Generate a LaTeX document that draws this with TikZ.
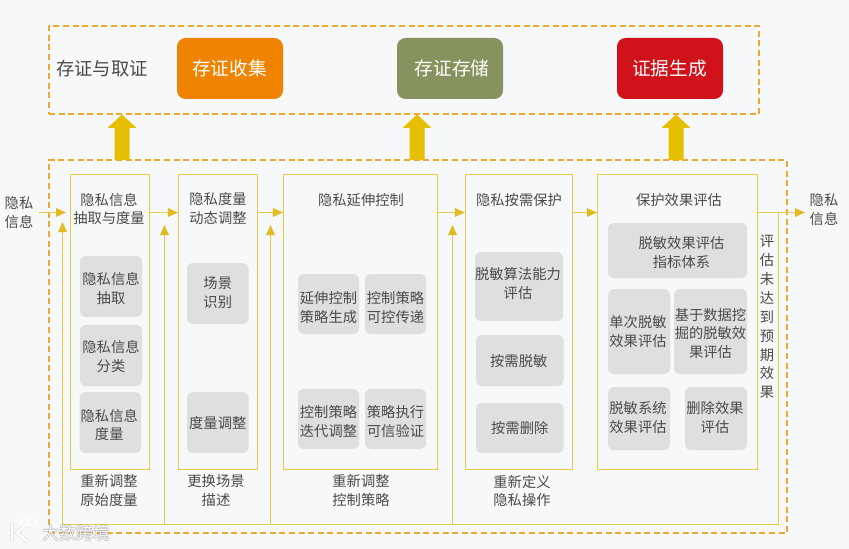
\documentclass[tikz,border=0pt]{standalone}
\usepackage{fontspec}
\setmainfont{Noto Sans CJK SC}
\usetikzlibrary{arrows.meta}
\definecolor{bgc}{HTML}{F7F8FA}
\definecolor{dashc}{HTML}{EEA92F}
\definecolor{linec}{HTML}{E9CB4B}
\definecolor{tipc}{HTML}{E1BB22}
\definecolor{blockc}{HTML}{E6BF00}
\definecolor{greyc}{HTML}{DEDFDF}
\definecolor{txtc}{HTML}{4A4A4A}
\definecolor{orangec}{HTML}{F08300}
\definecolor{greenc}{HTML}{87935F}
\definecolor{redc}{HTML}{D0121B}
\newcommand{\bx}[7]{\node[#6,minimum width={(#4-#2)*0.75pt},minimum height={(#5-#3)*0.75pt}] (#1) at ({(#2+#4)/2},{(#3+#5)/2}) {#7};}
% grey box with its label offset from the centre by (dx,dy)
\newcommand{\gb}[8]{\node[grey,minimum width={(#4-#2)*0.75pt},minimum height={(#5-#3)*0.75pt}] (#1) at ({(#2+#4)/2},{(#3+#5)/2}) {};
  \node[lbl] (#1t) at ({(#2+#4)/2+#6},{(#3+#5)/2+#7}) {#8};}
\tikzset{
  lbl/.style={text=txtc,font=\fontsize{10.7}{14.2}\selectfont,align=center,inner sep=0pt},
  bigl/.style={text=txtc,font=\fontsize{13.7}{16}\selectfont,align=center,inner sep=0pt},
  dashbox/.style={draw=dashc,line width=1.3pt,dash pattern=on 4.5pt off 2.7pt,inner sep=0pt},
  panel/.style={draw=linec,line width=0.9pt,inner sep=0pt},
  grey/.style={fill=greyc,rounded corners=4pt,inner sep=0pt},
  head/.style={rounded corners=6.5pt,text=white,font=\fontsize{14}{16}\selectfont,inner sep=0pt},
  flow/.style={draw=linec,line width=0.9pt},
  arr/.style={flow,-{Triangle[length=7.5pt,width=6.5pt,fill=tipc,color=tipc]}},
}
\begin{document}
\begin{tikzpicture}[x=0.75pt,y=-0.75pt]
\useasboundingbox (0,0) rectangle (849,549);
\fill[bgc] (0,0) rectangle (849,549);
% dashed frames
\bx{top}{49}{26}{759}{114}{dashbox}{}
\bx{bot}{49}{160}{787}{533}{dashbox}{}
% head boxes
\node[bigl] (title) at (102,69) {存证与取证};
\bx{h1}{177}{38}{283}{99}{head,fill=orangec}{\hspace{-1pt}存证收集}
\bx{h2}{397}{38}{503}{99}{head,fill=greenc}{\hspace{3pt}存证存储}
\bx{h3}{617}{38}{723}{99}{head,fill=redc}{\hspace{-1pt}证据生成}
% block arrows
\foreach \cx in {122,417,676}{
  \fill[blockc] (\cx-7.5,160) -- (\cx-7.5,128) -- (\cx-14.5,128) -- (\cx,114.5) -- (\cx+14.5,128) -- (\cx+7.5,128) -- (\cx+7.5,160) -- cycle;
}
% panels
\bx{p1}{70.5}{174.5}{149.5}{469.5}{panel}{}
\bx{p2}{178.5}{174.5}{257.5}{469.5}{panel}{}
\bx{p3}{283.5}{174.5}{437.5}{469.5}{panel}{}
\bx{p4}{465.5}{174.5}{572.5}{469.5}{panel}{}
\bx{p5}{597.5}{174.5}{757.5}{469.5}{panel}{}
% panel titles
\node[lbl] (t1) at (109,209) {隐私信息\\抽取与度量};
\node[lbl] (t2) at (218,209) {隐私度量\\动态调整};
\node[lbl] (t3) at (361,200) {隐私延伸控制};
\node[lbl] (t4) at (519,200) {隐私按需保护};
\node[lbl] (t5) at (679,200) {保护效果评估};
% inner boxes
\gb{a1}{80}{256}{142}{317}{0}{2}{隐私信息\\抽取}
\gb{a2}{80}{325}{142}{386}{0}{1}{隐私信息\\分类}
\gb{a3}{79.5}{392}{141}{453}{-1}{2.5}{隐私信息\\度量}
\gb{b1}{187}{263}{248.5}{324}{0}{-1}{场景\\识别}
\gb{b2}{187}{392}{248.5}{453}{0}{1}{度量调整}
\gb{c1}{298}{274}{359}{334}{0}{3.5}{延伸控制\\策略生成}
\gb{c2}{365}{274}{426}{334}{0}{3.5}{控制策略\\可控传递}
\gb{c3}{298}{389}{359}{449}{0}{3}{控制策略\\迭代调整}
\gb{c4}{365}{389}{426}{449}{0}{3}{策略执行\\可信验证}
\gb{d1}{475}{252}{563}{321}{-1}{-3}{脱敏算法能力\\评估}
\gb{d2}{476}{335}{563.5}{386}{-1}{1}{按需脱敏}
\gb{d3}{476}{403}{563.5}{453}{0}{0}{按需删除}
\gb{e1}{608}{223}{747}{278}{4}{2}{脱敏效果评估\\指标体系}
\gb{e2}{608}{289}{670}{374}{-1}{0}{单次脱敏\\效果评估}
\gb{e3}{674}{289}{747}{374}{0}{2}{基于数据挖\\掘的脱敏效\\果评估}
\gb{e4}{608}{387}{670}{450}{-1}{-1}{脱敏系统\\效果评估}
\gb{e5}{685}{387}{747}{450}{-1}{-1}{删除效果\\评估}
% outside labels
\node[lbl] (inl) at (19,213) {隐私\\信息};
\node[lbl] (outl) at (824,210) {隐私\\信息};
\node[lbl] (n1) at (109,491) {重新调整\\原始度量};
\node[lbl] (n2) at (216,491) {更换场景\\描述};
\node[lbl] (n3) at (361,491) {重新调整\\控制策略};
\node[lbl] (n4) at (522,491) {重新定义\\隐私操作};
\node[lbl] (n5) at (767,317) {评\\估\\未\\达\\到\\预\\期\\效\\果};
% flow line coordinates
\coordinate (main) at (0,212.5);
\coordinate (fbL) at (62.5,524.5);
\coordinate (fbR) at (778.5,524.5);
\coordinate (fb2) at (164.5,524.5);
\coordinate (fb3) at (270.5,524.5);
\coordinate (fb4) at (452.5,524.5);
\coordinate (inS) at (39,212.5);
\coordinate (inE) at (66,212.5);
\coordinate (outE) at (805,212.5);
% forward arrows
\draw[arr] (inS) -- (inE);
\draw[arr] (p1.east |- main) -- (p2.west |- main);
\draw[arr] (p2.east |- main) -- (p3.west |- main);
\draw[arr] (p3.east |- main) -- (p4.west |- main);
\draw[arr] (p4.east |- main) -- (p5.west |- main);
\draw[arr] (p5.east |- main) -- (outE);
% feedback
\draw[flow] (fbR |- main) -- (fbR) -- (fbL);
\draw[arr] (fbL) -- (62.5,222);
\draw[arr] (fb2) -- (164.5,225);
\draw[arr] (fb3) -- (270.5,225);
\draw[arr] (fb4) -- (452.5,225);
% watermark
\foreach \dx/\dy in {-.8/0,.8/0,0/-.8,0/.8}{
  \node[font=\fontsize{12.7}{15}\selectfont,text=black!45,opacity=.4,inner sep=0pt] at (76+\dx,533+\dy) {大数跨境};
}
\draw[black!40,opacity=.35,line width=2.8pt,line cap=round,line join=round] (12,524) -- (12,540) (24,527) -- (17,533) -- (27,541);
\node[font=\fontsize{12.7}{15}\selectfont,text=white,inner sep=0pt] (wm) at (76,533) {大数跨境};
\begin{scope}[white]
\draw[line width=2pt,line cap=round,line join=round] (12,524) -- (12,540) (24,527) -- (17,533) -- (27,541);
\draw[line width=1pt] (24,522.5) circle (3.5) (32,521.5) circle (4);
\end{scope}
\end{tikzpicture}
\end{document}
